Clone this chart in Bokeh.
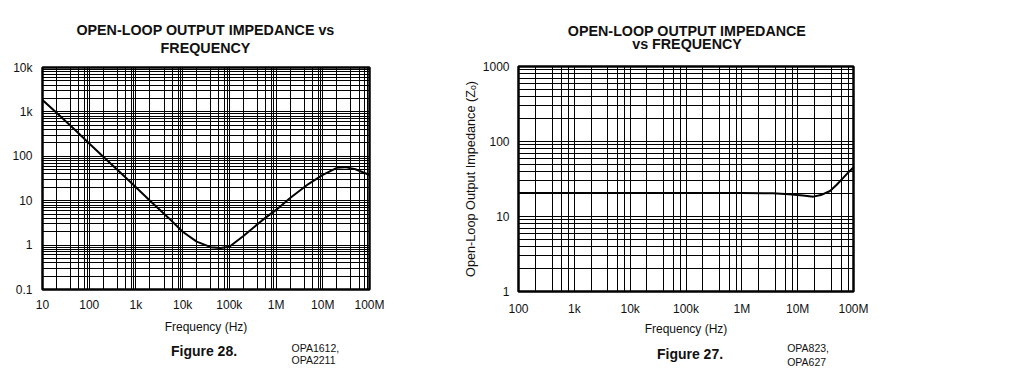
from bokeh.plotting import figure
from bokeh.layouts import row, column
from bokeh.models import FixedTicker
from bokeh.core.properties import value
from bokeh.embed import file_html
from bokeh.resources import INLINE

# ---------------- data ----------------
# Left chart (Figure 28, OPA1612 / OPA2211)
left_freq = [10, 20, 50, 100, 200, 500, 1e3, 2e3, 5e3, 1e4, 2e4, 4e4, 6.5e4, 1e5,
             2e5, 5e5, 1e6, 2e6, 5e6, 1e7, 2e7, 3e7, 5e7, 1e8]
left_zo = [1850, 960, 390, 195, 98, 40, 20, 10, 4.1, 2.0, 1.2, 0.9, 0.86, 0.92,
           1.6, 3.6, 6.2, 11.5, 24, 38, 55, 57, 51, 38]

# Right chart (Figure 27, OPA823 / OPA627)
right_freq = [1e2, 1e3, 1e4, 1e5, 1e6, 3.6e6, 7e6, 1.25e7, 1.9e7, 2.6e7, 3.8e7,
              5e7, 6.6e7, 8e7, 1e8]
right_zo = [20.5, 20.5, 20.5, 20.5, 20.5, 20.4, 19.8, 19.0, 18.4, 19.3, 21.9,
            26.5, 33, 38.5, 45]

left_x_ticks = [10, 100, 1000, 10000, 100000, 1000000, 10000000, 100000000]
left_x_labels = ["10", "100", "1k", "10k", "100k", "1M", "10M", "100M"]
left_y_ticks = [0.1, 1, 10, 100, 1000, 10000]
left_y_labels = ["0.1", "1", "10", "100", "1k", "10k"]

right_x_ticks = [100, 1000, 10000, 100000, 1000000, 10000000, 100000000]
right_x_labels = ["100", "1k", "10k", "100k", "1M", "10M", "100M"]
right_y_ticks = [1, 10, 100, 1000]
right_y_labels = ["1", "10", "100", "1000"]

left_title = ["OPEN-LOOP OUTPUT IMPEDANCE vs", "FREQUENCY"]
right_title = ["OPEN-LOOP OUTPUT IMPEDANCE", "vs FREQUENCY"]
left_fig_name = "Figure 28."
left_parts = ["OPA1612,", "OPA2211"]
right_fig_name = "Figure 27."
right_parts = ["OPA823,", "OPA627"]

FONT = "Liberation Sans"
INK = "#111111"

LW = 445   # left column width
RW = 558   # right column width
L_FRAME = (42, 369)    # page x of the left plot frame
R_FRAME = (518, 853)   # page x of the right plot frame


def minor(decades, mults):
    out = []
    for d in decades[:-1]:
        for m in mults:
            out.append(d * m)
    return out


def style(p, xt, xl, yt, yl, xminor, yminor, xstand, ystand):
    p.xaxis.ticker = FixedTicker(ticks=xt, minor_ticks=xminor)
    p.yaxis.ticker = FixedTicker(ticks=yt, minor_ticks=yminor)
    p.xaxis.major_label_overrides = {t: l for t, l in zip(xt, xl)}
    p.yaxis.major_label_overrides = {t: l for t, l in zip(yt, yl)}
    for ax in (p.xaxis, p.yaxis):
        ax.axis_line_color = None
        ax.major_tick_line_color = None
        ax.minor_tick_line_color = None
        ax.major_tick_in = 0
        ax.major_tick_out = 0
        ax.minor_tick_in = 0
        ax.minor_tick_out = 0
        ax.major_label_text_font = FONT
        ax.major_label_text_font_size = "12px"
        ax.major_label_text_color = INK
        ax.axis_label_text_font = FONT
        ax.axis_label_text_font_size = "12px"
        ax.axis_label_text_font_style = "normal"
        ax.axis_label_text_color = INK
    p.xaxis.major_label_standoff = xstand
    p.yaxis.major_label_standoff = ystand
    for g in (p.xgrid, p.ygrid):
        g.grid_line_color = "black"
        g.grid_line_width = 1
        g.grid_line_alpha = 1
        g.minor_grid_line_color = "black"
        g.minor_grid_line_width = 1
    p.outline_line_color = "black"
    p.outline_line_width = 2.5
    p.outline_line_alpha = 1
    p.background_fill_color = "white"
    p.border_fill_color = "white"


def caption(width, height, xr):
    # frame gets aligned with the plot frame in the column, so use page x
    c = figure(width=width, height=height, x_range=xr,
               y_range=(0, height),
               min_border_left=0, min_border_right=0,
               min_border_top=0, min_border_bottom=0,
               x_axis_location=None, y_axis_location=None,
               output_backend="svg", toolbar_location=None)
    c.title = None
    c.xgrid.visible = False
    c.ygrid.visible = False
    c.outline_line_color = None
    c.background_fill_color = "white"
    c.border_fill_color = "white"
    return c


def put(c, x, y, txt, size, bold=False, align="left"):
    c.text(x=[x], y=[y], text=[txt], text_font=value(FONT),
           text_font_size=size,
           text_font_style="bold" if bold else "normal",
           text_align=align, text_baseline="middle", text_color=INK)


# ---------------- left column ----------------
lt = caption(LW, 57, L_FRAME)
put(lt, 205, 57 - 29, left_title[0], "14.3px", bold=True, align="center")
put(lt, 205, 57 - 47.5, left_title[1], "14.3px", bold=True, align="center")

pl = figure(x_axis_type="log", y_axis_type="log",
            x_range=(10, 1e8), y_range=(0.1, 1e4),
            frame_width=327, frame_height=222,
            min_border_left=42, min_border_right=76,
            min_border_top=10, min_border_bottom=48,
            output_backend="svg", toolbar_location=None)
pl.title = None
style(pl, left_x_ticks, left_x_labels, left_y_ticks, left_y_labels,
      minor(left_x_ticks, [2, 4, 6, 8, 9]),
      minor(left_y_ticks, [2, 3, 4, 5, 6, 7, 8, 9]), 8, 10)
pl.xaxis.axis_label = "Frequency (Hz)"
pl.xaxis.axis_label_standoff = 5
pl.line(left_freq, left_zo, line_color="black", line_width=2)

lb = caption(LW, 40, L_FRAME)
put(lb, 203.5, 40 - 13, left_fig_name, "14px", bold=True, align="center")
put(lb, 291, 40 - 10, left_parts[0], "10.5px")
put(lb, 291, 40 - 22, left_parts[1], "10.5px")

# ---------------- right column ----------------
rt = caption(RW, 56, R_FRAME)
put(rt, 686.5, 56 - 30, right_title[0], "14.3px", bold=True, align="center")
put(rt, 686.5, 56 - 43.5, right_title[1], "14.3px", bold=True, align="center")

pr = figure(x_axis_type="log", y_axis_type="log",
            x_range=(100, 1e8), y_range=(1, 1000),
            frame_width=335, frame_height=225,
            min_border_left=73, min_border_right=150,
            min_border_top=10, min_border_bottom=48,
            output_backend="svg", toolbar_location=None)
pr.title = None
style(pr, right_x_ticks, right_x_labels, right_y_ticks, right_y_labels,
      minor(right_x_ticks, [2, 4, 6, 8]),
      minor(right_y_ticks, [2, 3, 4, 5, 6, 7, 8, 9]), 10, 9)
pr.xaxis.axis_label = "Frequency (Hz)"
pr.xaxis.axis_label_standoff = 3
pr.yaxis.axis_label = "Open-Loop Output Impedance (Z\u2092)"
pr.yaxis.axis_label_text_font_size = "12.7px"
pr.yaxis.axis_label_standoff = 2
pr.line(right_freq, right_zo, line_color="black", line_width=2)

rb = caption(RW, 38, R_FRAME)
put(rb, 689.5, 38 - 14, right_fig_name, "14px", bold=True, align="center")
put(rb, 786.7, 38 - 8, right_parts[0], "10.5px")
put(rb, 786.7, 38 - 22, right_parts[1], "10.5px")

layout = row(column(lt, pl, lb), column(rt, pr, rb))
open("out.html", "w").write(file_html(layout, INLINE))
